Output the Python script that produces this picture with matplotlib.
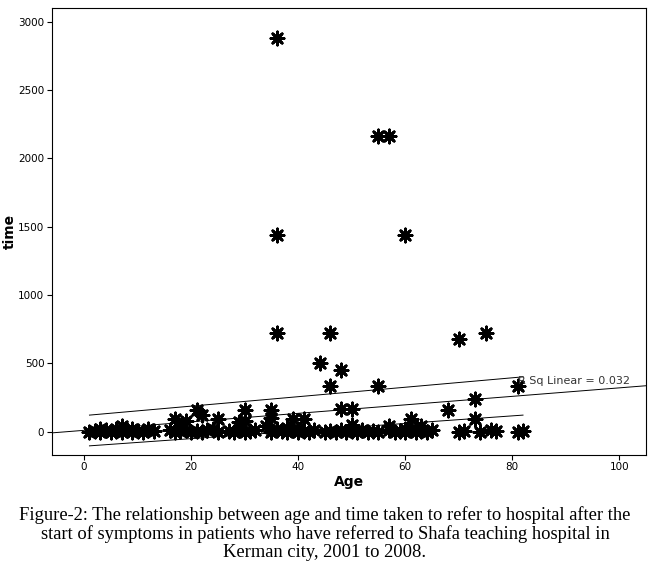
import matplotlib.pyplot as plt

# outlying and mid-range points
age_hi = [36, 55, 57, 36, 60, 36, 46, 75, 70, 44, 48, 46, 55, 81, 73, 21, 30, 35, 48, 50, 68,
          22, 17, 19, 25, 29, 30, 35, 39, 41, 61, 73, 7, 57, 63, 50, 34, 18, 24, 62]
time_hi = [2880, 2160, 2160, 1440, 1440, 720, 720, 720, 675, 500, 450, 335, 335, 335, 240, 160, 160, 160, 165, 165, 160,
           120, 90, 80, 90, 70, 80, 100, 90, 90, 90, 90, 40, 40, 40, 50, 40, 30, 20, 20]
# cluster near zero
age_lo = [1, 2, 3, 4, 5, 6, 7, 8, 9, 10, 11, 12, 13, 16, 17, 18, 19, 20, 21, 22, 23, 25, 27, 28, 29, 30,
          31, 32, 35, 36, 37, 38, 39, 40, 41, 42, 43, 45, 46, 47, 48, 49, 50, 51, 52, 53, 54, 55,
          57, 58, 59, 60, 61, 62, 63, 64, 65, 70, 71, 74, 76, 77, 81, 82, 3, 6, 9, 12, 36, 38, 40, 60]
time_lo = [0, 5, 0, 10, 0, 5, 0, 10, 0, 5, 0, 10, 5, 10, 0, 5, 10, 0, 5, 0, 10, 0, 5, 0, 10, 0,
           5, 10, 0, 10, 5, 0, 10, 0, 5, 0, 10, 0, 5, 0, 10, 0, 5, 0, 10, 0, 5, 0,
           10, 0, 5, 0, 10, 0, 5, 0, 10, 0, 5, 0, 10, 5, 0, 5, 20, 15, 20, 15, 20, 25, 15, 15]

fit_x = [-6, 105]
fit_y = [-10, 335]
ci_x = [1, 82]
ci_up = [120, 400]
ci_lo = [-105, 120]

fig = plt.figure(figsize=(6.5, 5.67), dpi=100)
ax = fig.add_axes([0.08, 0.198, 0.914, 0.788])
ax.scatter(age_hi + age_lo, time_hi + time_lo, marker=(8, 2, 0), s=90, c='black', linewidths=2)
ax.plot(fit_x, fit_y, color='black', lw=0.7)
ax.plot(ci_x, ci_up, color='black', lw=0.7)
ax.plot(ci_x, ci_lo, color='black', lw=0.7)
ax.text(81, 345, 'R Sq Linear = 0.032', fontsize=8, color='#333333')
ax.set_xlim(-6, 105)
ax.set_ylim(-170, 3100)
ax.set_xticks([0, 20, 40, 60, 80, 100])
ax.set_yticks([0, 500, 1000, 1500, 2000, 2500, 3000])
ax.tick_params(labelsize=7.5, pad=2)
ax.set_xlabel('Age', fontsize=10, fontweight='bold', labelpad=2)
ax.set_ylabel('time', fontsize=10, fontweight='bold', labelpad=1)

fig.text(0.5, 0.01, 'Figure-2: The relationship between age and time taken to refer to hospital after the\n'
         'start of symptoms in patients who have referred to Shafa teaching hospital in\n'
         'Kerman city, 2001 to 2008.', ha='center', va='bottom', family='Liberation Serif',
         fontsize=13.3, linespacing=1.1)
fig.savefig('out.png')
